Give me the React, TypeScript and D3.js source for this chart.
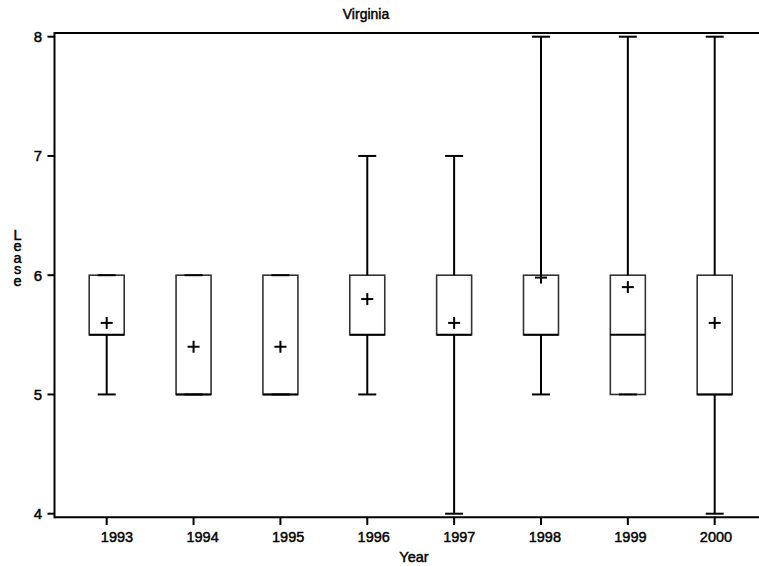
import React from "react";
import * as d3 from "d3";

// Lease terms by year, Virginia
const years = [1993, 1994, 1995, 1996, 1997, 1998, 1999, 2000];
const whiskerLow = [5, 5, 5, 5, 4, 5, 5, 4];
const q1 = [5.5, 5, 5, 5.5, 5.5, 5.5, 5, 5];
const median = [5.5, 5, 5, 5.5, 5.5, 5.5, 5.5, 5];
const q3 = [6, 6, 6, 6, 6, 6, 6, 6];
const whiskerHigh = [6, 6, 6, 7, 7, 8, 8, 8];
const means = [5.6, 5.4, 5.4, 5.8, 5.6, 5.98, 5.9, 5.6];
const yTicks = [4, 5, 6, 7, 8];

const W = 759;
const H = 566;
const FONT = "'Liberation Sans', Arial, Helvetica, sans-serif";

// regular weight, lightly stroked for a slightly heavier look
const textStyle = { fill: "#000", stroke: "#000", strokeWidth: 0.45 };

export default function App() {
  const x = d3.scaleLinear().domain([1993, 2000]).range([106.7, 714.7]);
  // tick labels sit on a slightly narrower spacing than the tick marks
  const xLabel = d3.scaleLinear().domain([1993, 2000]).range([117, 716]);
  const y = d3.scaleLinear().domain([4, 8]).range([513.7, 36.7]);

  const left = 54.5;
  const top = 33;
  const bottom = 517.3;
  const right = W;

  const boxW = 35;
  const capW = 18;
  const plus = 6;

  return (
    <svg
      width={W}
      height={H}
      style={{ position: "fixed", left: 0, top: 0, background: "#fff" }}
      fontFamily={FONT}
    >
      <rect x={0} y={0} width={W} height={H} fill="#fff" />

      {/* title */}
      <text x={366} y={19} textAnchor="middle" fontSize={14} {...textStyle}>
        Virginia
      </text>

      {/* boxes */}
      {years.map((yr, i) => {
        const cx = x(yr);
        return (
          <g key={yr}>
            <rect
              x={cx - boxW / 2}
              y={y(q3[i])}
              width={boxW}
              height={y(q1[i]) - y(q3[i])}
              fill="none"
              stroke="#333"
              strokeWidth={1.6}
            />
            <line
              x1={cx - boxW / 2}
              x2={cx + boxW / 2}
              y1={y(median[i])}
              y2={y(median[i])}
              stroke="#000"
              strokeWidth={2}
            />
            {/* whiskers */}
            {whiskerHigh[i] > q3[i] && (
              <line x1={cx} x2={cx} y1={y(q3[i])} y2={y(whiskerHigh[i])} stroke="#000" strokeWidth={2} />
            )}
            {whiskerLow[i] < q1[i] && (
              <line x1={cx} x2={cx} y1={y(q1[i])} y2={y(whiskerLow[i])} stroke="#000" strokeWidth={2} />
            )}
            <line x1={cx - capW / 2} x2={cx + capW / 2} y1={y(whiskerHigh[i])} y2={y(whiskerHigh[i])} stroke="#000" strokeWidth={2} />
            <line x1={cx - capW / 2} x2={cx + capW / 2} y1={y(whiskerLow[i])} y2={y(whiskerLow[i])} stroke="#000" strokeWidth={2} />
            {/* mean marker */}
            <line x1={cx - plus} x2={cx + plus} y1={y(means[i])} y2={y(means[i])} stroke="#000" strokeWidth={2} />
            <line x1={cx} x2={cx} y1={y(means[i]) - plus} y2={y(means[i]) + plus} stroke="#000" strokeWidth={2} />
          </g>
        );
      })}

      {/* frame */}
      <line x1={left} x2={right} y1={top} y2={top} stroke="#000" strokeWidth={2} />
      <line x1={left} x2={right} y1={bottom} y2={bottom} stroke="#000" strokeWidth={2} />
      <line x1={left} x2={left} y1={top - 1} y2={bottom + 1} stroke="#000" strokeWidth={2} />

      {/* y axis */}
      {yTicks.map((t) => (
        <g key={t}>
          <line x1={47.5} x2={left} y1={y(t)} y2={y(t)} stroke="#000" strokeWidth={2} />
          <text x={42} y={y(t) + 5.5} textAnchor="end" fontSize={15} {...textStyle}>
            {t}
          </text>
        </g>
      ))}
      {/* stacked axis title */}
      <text x={17.5} y={239.5} textAnchor="middle" fontSize={14.5} {...textStyle}>
        {"Lease".split("").map((c, k) => (
          <tspan key={k} x={17.5} dy={k === 0 ? 0 : 11.6}>
            {c}
          </tspan>
        ))}
      </text>

      {/* x axis */}
      {years.map((yr) => (
        <g key={yr}>
          <line x1={x(yr)} x2={x(yr)} y1={bottom} y2={525} stroke="#000" strokeWidth={2} />
          <text x={xLabel(yr)} y={542} textAnchor="middle" fontSize={14.5} {...textStyle}>
            {yr}
          </text>
        </g>
      ))}
      <text x={414} y={562} textAnchor="middle" fontSize={14.5} {...textStyle}>
        Year
      </text>
    </svg>
  );
}
